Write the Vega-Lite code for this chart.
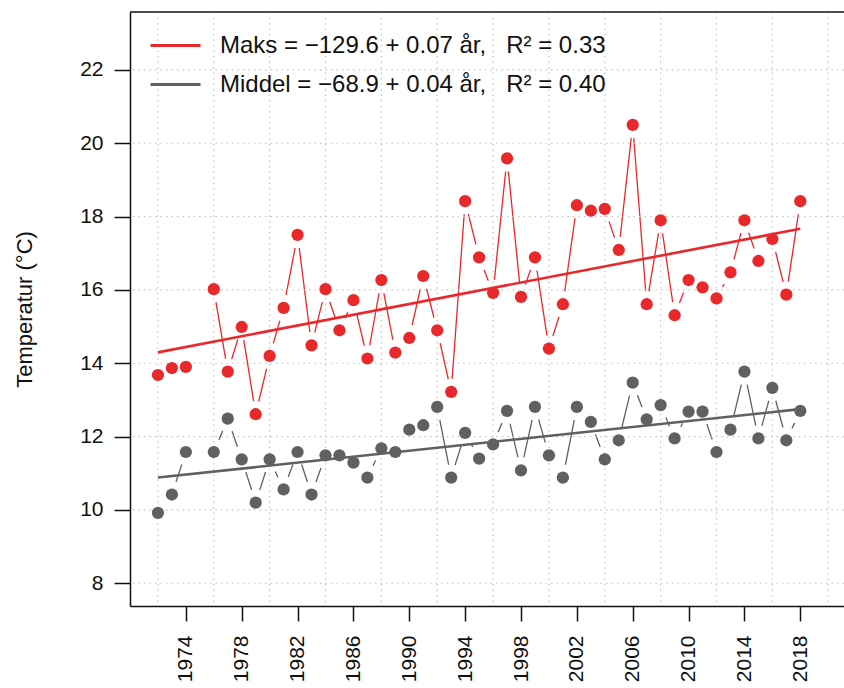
{
  "$schema": "https://vega.github.io/schema/vega-lite/v6.json",
  "autosize": "none",
  "padding": {"left": 130, "top": 12, "right": 0, "bottom": 82},
  "width": 714,
  "height": 594,
  "background": "white",
  "config": {
    "view": {"stroke": null},
    "font": "Liberation Sans"
  },
  "datasets": {
    "temps": [
      {"year": 1972, "series": "Maks", "value": 13.68},
      {"year": 1973, "series": "Maks", "value": 13.87},
      {"year": 1974, "series": "Maks", "value": 13.9},
      {"year": 1975, "series": "Maks", "value": null},
      {"year": 1976, "series": "Maks", "value": 16.02},
      {"year": 1977, "series": "Maks", "value": 13.77},
      {"year": 1978, "series": "Maks", "value": 14.99},
      {"year": 1979, "series": "Maks", "value": 12.61},
      {"year": 1980, "series": "Maks", "value": 14.2},
      {"year": 1981, "series": "Maks", "value": 15.51},
      {"year": 1982, "series": "Maks", "value": 17.5},
      {"year": 1983, "series": "Maks", "value": 14.49},
      {"year": 1984, "series": "Maks", "value": 16.02},
      {"year": 1985, "series": "Maks", "value": 14.9},
      {"year": 1986, "series": "Maks", "value": 15.72},
      {"year": 1987, "series": "Maks", "value": 14.13},
      {"year": 1988, "series": "Maks", "value": 16.27},
      {"year": 1989, "series": "Maks", "value": 14.29},
      {"year": 1990, "series": "Maks", "value": 14.69},
      {"year": 1991, "series": "Maks", "value": 16.38},
      {"year": 1992, "series": "Maks", "value": 14.9},
      {"year": 1993, "series": "Maks", "value": 13.22},
      {"year": 1994, "series": "Maks", "value": 18.42},
      {"year": 1995, "series": "Maks", "value": 16.89},
      {"year": 1996, "series": "Maks", "value": 15.92},
      {"year": 1997, "series": "Maks", "value": 19.59},
      {"year": 1998, "series": "Maks", "value": 15.81},
      {"year": 1999, "series": "Maks", "value": 16.89},
      {"year": 2000, "series": "Maks", "value": 14.4},
      {"year": 2001, "series": "Maks", "value": 15.61},
      {"year": 2002, "series": "Maks", "value": 18.31},
      {"year": 2003, "series": "Maks", "value": 18.16},
      {"year": 2004, "series": "Maks", "value": 18.21},
      {"year": 2005, "series": "Maks", "value": 17.09},
      {"year": 2006, "series": "Maks", "value": 20.5},
      {"year": 2007, "series": "Maks", "value": 15.61},
      {"year": 2008, "series": "Maks", "value": 17.9},
      {"year": 2009, "series": "Maks", "value": 15.31},
      {"year": 2010, "series": "Maks", "value": 16.27},
      {"year": 2011, "series": "Maks", "value": 16.07},
      {"year": 2012, "series": "Maks", "value": 15.77},
      {"year": 2013, "series": "Maks", "value": 16.48},
      {"year": 2014, "series": "Maks", "value": 17.9},
      {"year": 2015, "series": "Maks", "value": 16.79},
      {"year": 2016, "series": "Maks", "value": 17.39},
      {"year": 2017, "series": "Maks", "value": 15.87},
      {"year": 2018, "series": "Maks", "value": 18.42},
      {"year": 1972, "series": "Middel", "value": 9.92},
      {"year": 1973, "series": "Middel", "value": 10.42},
      {"year": 1974, "series": "Middel", "value": 11.58},
      {"year": 1975, "series": "Middel", "value": null},
      {"year": 1976, "series": "Middel", "value": 11.58},
      {"year": 1977, "series": "Middel", "value": 12.49},
      {"year": 1978, "series": "Middel", "value": 11.38},
      {"year": 1979, "series": "Middel", "value": 10.2},
      {"year": 1980, "series": "Middel", "value": 11.38},
      {"year": 1981, "series": "Middel", "value": 10.56},
      {"year": 1982, "series": "Middel", "value": 11.58},
      {"year": 1983, "series": "Middel", "value": 10.42},
      {"year": 1984, "series": "Middel", "value": 11.49},
      {"year": 1985, "series": "Middel", "value": 11.49},
      {"year": 1986, "series": "Middel", "value": 11.29},
      {"year": 1987, "series": "Middel", "value": 10.88},
      {"year": 1988, "series": "Middel", "value": 11.68},
      {"year": 1989, "series": "Middel", "value": 11.58},
      {"year": 1990, "series": "Middel", "value": 12.19},
      {"year": 1991, "series": "Middel", "value": 12.31},
      {"year": 1992, "series": "Middel", "value": 12.81},
      {"year": 1993, "series": "Middel", "value": 10.88},
      {"year": 1994, "series": "Middel", "value": 12.1},
      {"year": 1995, "series": "Middel", "value": 11.4},
      {"year": 1996, "series": "Middel", "value": 11.79},
      {"year": 1997, "series": "Middel", "value": 12.7},
      {"year": 1998, "series": "Middel", "value": 11.08},
      {"year": 1999, "series": "Middel", "value": 12.81},
      {"year": 2000, "series": "Middel", "value": 11.49},
      {"year": 2001, "series": "Middel", "value": 10.88},
      {"year": 2002, "series": "Middel", "value": 12.81},
      {"year": 2003, "series": "Middel", "value": 12.4},
      {"year": 2004, "series": "Middel", "value": 11.38},
      {"year": 2005, "series": "Middel", "value": 11.9},
      {"year": 2006, "series": "Middel", "value": 13.47},
      {"year": 2007, "series": "Middel", "value": 12.47},
      {"year": 2008, "series": "Middel", "value": 12.86},
      {"year": 2009, "series": "Middel", "value": 11.95},
      {"year": 2010, "series": "Middel", "value": 12.68},
      {"year": 2011, "series": "Middel", "value": 12.68},
      {"year": 2012, "series": "Middel", "value": 11.58},
      {"year": 2013, "series": "Middel", "value": 12.19},
      {"year": 2014, "series": "Middel", "value": 13.77},
      {"year": 2015, "series": "Middel", "value": 11.95},
      {"year": 2016, "series": "Middel", "value": 13.33},
      {"year": 2017, "series": "Middel", "value": 11.9},
      {"year": 2018, "series": "Middel", "value": 12.7}
    ],
    "vgrid": [
      {"year": 1972}, {"year": 1976}, {"year": 1980}, {"year": 1984}, {"year": 1988},
      {"year": 1992}, {"year": 1996}, {"year": 2000}, {"year": 2004}, {"year": 2008},
      {"year": 2012}, {"year": 2016}, {"year": 2020}
    ],
    "hgrid": [
      {"t": 8}, {"t": 10}, {"t": 12}, {"t": 14}, {"t": 16}, {"t": 18}, {"t": 20}, {"t": 22}
    ],
    "frame": [{"t": 23.58}]
  },
  "layer": [
    {
      "data": {"name": "temps"},
      "mark": {"type": "line", "strokeWidth": 1.3, "invalid": "break-paths-show-domains"},
      "encoding": {
        "x": {
          "field": "year", "type": "quantitative",
          "scale": {"domain": [1970, 2021.13], "nice": false, "zero": false},
          "axis": {
            "values": [1974, 1978, 1982, 1986, 1990, 1994, 1998, 2002, 2006, 2010, 2014, 2018],
            "format": "d", "title": null, "grid": false,
            "labelAngle": -90, "labelAlign": "right", "labelBaseline": "middle",
            "labelFontSize": 21, "labelColor": "#111", "labelPadding": 14,
            "tickSize": 15, "tickWidth": 1.5, "tickColor": "#111",
            "domainColor": "#111", "domainWidth": 1.5, "labelFlush": false, "labelOverlap": false
          }
        },
        "y": {
          "field": "value", "type": "quantitative",
          "scale": {"domain": [7.38, 23.58], "nice": false, "zero": false},
          "axis": {
            "values": [8, 10, 12, 14, 16, 18, 20, 22],
            "title": "Temperatur (°C)", "grid": false,
            "labelFontSize": 21, "labelColor": "#111", "labelPadding": 11,
            "tickSize": 16, "tickWidth": 1.5, "tickColor": "#111",
            "domainColor": "#111", "domainWidth": 1.5, "labelFlush": false,
            "titleFontSize": 22, "titleFontWeight": "normal", "titleColor": "#111",
            "titleAngle": -90, "titleX": -106, "titleY": 297,
            "titleAlign": "center", "titleBaseline": "middle"
          }
        },
        "color": {
          "field": "series", "type": "nominal",
          "scale": {"domain": ["Maks", "Middel"], "range": ["#E8282B", "#606060"]},
          "legend": {
            "orient": "none", "legendX": 19, "legendY": 7, "title": null,
            "padding": 0, "symbolType": "stroke", "symbolSize": 2500, "symbolStrokeWidth": 3,
            "labelFontSize": 24, "labelColor": "#111", "labelOffset": 18, "rowPadding": -5,
            "labelLimit": 700,
            "labelExpr": "datum.label == 'Maks' ? 'Maks = \u2212129.6 + 0.07 \u00e5r,\u00a0\u00a0\u00a0R\u00b2 = 0.33' : 'Middel = \u221268.9 + 0.04 \u00e5r,\u00a0\u00a0\u00a0R\u00b2 = 0.40'"
          }
        }
      }
    },
    {
      "data": {"name": "temps"},
      "mark": {"type": "point", "filled": true, "opacity": 1, "size": 700, "color": "white"},
      "encoding": {
        "x": {"field": "year", "type": "quantitative"},
        "y": {"field": "value", "type": "quantitative"}
      }
    },
    {
      "data": {"name": "vgrid"},
      "mark": {"type": "rule", "color": "#c4c4c4", "strokeWidth": 1.2, "strokeDash": [1.5, 4]},
      "encoding": {"x": {"field": "year", "type": "quantitative"}}
    },
    {
      "data": {"name": "hgrid"},
      "mark": {"type": "rule", "color": "#c4c4c4", "strokeWidth": 1.2, "strokeDash": [1.5, 4]},
      "encoding": {"y": {"field": "t", "type": "quantitative"}}
    },
    {
      "data": {"name": "frame"},
      "mark": {"type": "rule", "color": "#111", "strokeWidth": 1.5},
      "encoding": {"y": {"field": "t", "type": "quantitative"}}
    },
    {
      "data": {"name": "temps"},
      "transform": [
        {"filter": "datum.value != null"},
        {"regression": "value", "on": "year", "groupby": ["series"], "extent": [1972, 2018]}
      ],
      "mark": {"type": "line", "strokeWidth": 2.6},
      "encoding": {
        "x": {"field": "year", "type": "quantitative"},
        "y": {"field": "value", "type": "quantitative"},
        "color": {"field": "series", "type": "nominal"}
      }
    },
    {
      "data": {"name": "temps"},
      "mark": {"type": "point", "filled": true, "opacity": 1, "size": 150},
      "encoding": {
        "x": {"field": "year", "type": "quantitative"},
        "y": {"field": "value", "type": "quantitative"},
        "color": {"field": "series", "type": "nominal"}
      }
    }
  ]
}
